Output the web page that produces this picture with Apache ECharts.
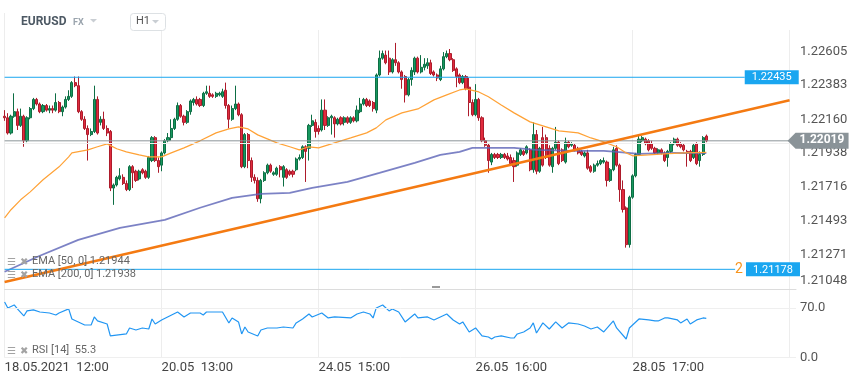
<!DOCTYPE html>
<html><head><meta charset="utf-8">
<script src="https://cdn.jsdelivr.net/npm/echarts@6/dist/echarts.min.js"></script>
<style>html,body{margin:0;padding:0;background:#fff}#c{width:859px;height:385px}</style>
</head><body><div id="c"></div>
<script>
const symbolName = 'EURUSD';
const marketName = 'FX';
const timeframe = 'H1';
const slotCount = 248;
const labelEvery = 49;
const timeLabels = ['18.05.2021  12:00', '20.05  13:00', '24.05  15:00', '26.05  16:00', '28.05  17:00'];
const priceTicks = ['1.22605', '1.22383', '1.22160', '1.21938', '1.21716', '1.21493', '1.21271', '1.21048'];
const priceMin = 1.21048;
const priceMax = 1.227444;
const rsiTicks = [0, 70];
const levelHigh = 1.22435;
const levelLow = 1.21178;
const levelLowTag = '2';
const levelHighEnd = 231;
const levelLowEnd = 228;
const lastPrice = 1.22019;
const trendStart = [0, 1.21095];
const trendEnd = [245, 1.22284];
const ema50Legend = 'EMA [50, 0] 1.21944';
const ema200Legend = 'EMA [200, 0] 1.21938';
const rsiLegend = 'RSI [14]  55.3';

// [open, close, low, high]
const candles = [
[1.2218,1.2217,1.2215,1.2222],[1.2217,1.2207,1.2206,1.2220],[1.2207,1.2218,1.2206,1.2219],[1.2218,1.2221,1.2217,1.2233],[1.2221,1.2212,1.2209,1.2223],
[1.2212,1.2218,1.2211,1.2223],[1.2218,1.2202,1.2198,1.2219],[1.2202,1.2217,1.2201,1.2218],[1.2217,1.2223,1.2216,1.2224],[1.2223,1.2229,1.2222,1.2230],
[1.2229,1.2226,1.2225,1.2230],[1.2226,1.2221,1.2220,1.2227],[1.2221,1.2225,1.2220,1.2226],[1.2225,1.2222,1.2221,1.2226],[1.2222,1.2223,1.2220,1.2225],
[1.2223,1.2222,1.2220,1.2225],[1.2222,1.2227,1.2221,1.2233],[1.2227,1.2221,1.2220,1.2228],[1.2221,1.2224,1.2218,1.2225],[1.2224,1.2229,1.2223,1.2231],
[1.2229,1.2231,1.2228,1.2235],[1.2231,1.2240,1.2230,1.2241],[1.2240,1.2238,1.2237,1.2244],[1.2238,1.2221,1.2220,1.2244],[1.2221,1.2216,1.2215,1.2222],
[1.2216,1.2210,1.2209,1.2218],[1.2210,1.2206,1.2189,1.2212],[1.2206,1.2208,1.2205,1.2210],[1.2208,1.2229,1.2207,1.2238],[1.2229,1.2207,1.2206,1.2231],
[1.2214,1.2216,1.2212,1.2218],[1.2216,1.2210,1.2209,1.2221],[1.2210,1.2207,1.2205,1.2212],[1.2208,1.2171,1.2169,1.2209],[1.2171,1.2173,1.2160,1.2174],
[1.2173,1.2178,1.2172,1.2179],[1.2177,1.2179,1.2176,1.2184],[1.2178,1.2174,1.2173,1.2180],[1.2174,1.2170,1.2169,1.2176],[1.2170,1.2185,1.2169,1.2186],
[1.2185,1.2181,1.2171,1.2186],[1.2182,1.2176,1.2175,1.2183],[1.2177,1.2182,1.2176,1.2183],[1.2183,1.2181,1.2180,1.2184],[1.2182,1.2178,1.2177,1.2183],
[1.2178,1.2191,1.2177,1.2192],[1.2189,1.2204,1.2188,1.2205],[1.2204,1.2189,1.2188,1.2205],[1.2189,1.2185,1.2181,1.2191],[1.2186,1.2194,1.2182,1.2195],
[1.2194,1.2202,1.2193,1.2203],[1.2202,1.2204,1.2201,1.2207],[1.2204,1.2210,1.2202,1.2216],[1.2210,1.2216,1.2209,1.2217],[1.2216,1.2225,1.2215,1.2227],
[1.2225,1.2218,1.2217,1.2226],[1.2218,1.2214,1.2212,1.2219],[1.2214,1.2221,1.2213,1.2222],[1.2221,1.2228,1.2219,1.2229],[1.2227,1.2229,1.2225,1.2230],
[1.2229,1.2226,1.2225,1.2231],[1.2229,1.2225,1.2224,1.2230],[1.2225,1.2233,1.2224,1.2234],[1.2233,1.2234,1.2232,1.2238],[1.2233,1.2231,1.2230,1.2238],
[1.2232,1.2231,1.2230,1.2233],[1.2231,1.2233,1.2230,1.2234],[1.2232,1.2233,1.2231,1.2234],[1.2231,1.2234,1.2230,1.2236],[1.2235,1.2225,1.2223,1.2240],
[1.2225,1.2216,1.2210,1.2226],[1.2216,1.2223,1.2215,1.2225],[1.2223,1.2226,1.2222,1.2238],[1.2226,1.2219,1.2218,1.2227],[1.2219,1.2185,1.2184,1.2220],
[1.2185,1.2206,1.2184,1.2207],[1.2206,1.2189,1.2184,1.2207],[1.2189,1.2178,1.2175,1.2191],[1.2178,1.2176,1.2174,1.2180],[1.2176,1.2164,1.2162,1.2178],
[1.2164,1.2176,1.2161,1.2177],[1.2176,1.2181,1.2175,1.2182],[1.2181,1.2186,1.2180,1.2187],[1.2186,1.2182,1.2181,1.2187],[1.2180,1.2181,1.2179,1.2182],
[1.2180,1.2184,1.2179,1.2185],[1.2185,1.2183,1.2178,1.2186],[1.2178,1.2185,1.2172,1.2186],[1.2183,1.2178,1.2177,1.2184],[1.2182,1.2180,1.2179,1.2183],
[1.2182,1.2180,1.2178,1.2183],[1.2183,1.2190,1.2182,1.2191],[1.2190,1.2191,1.2189,1.2193],[1.2191,1.2198,1.2190,1.2199],[1.2198,1.2195,1.2175,1.2199],
[1.2197,1.2212,1.2189,1.2213],[1.2212,1.2215,1.2211,1.2219],[1.2214,1.2208,1.2204,1.2216],[1.2210,1.2208,1.2206,1.2212],[1.2209,1.2222,1.2208,1.2229],
[1.2222,1.2212,1.2209,1.2229],[1.2212,1.2217,1.2211,1.2218],[1.2217,1.2218,1.2206,1.2219],[1.2217,1.2213,1.2204,1.2218],[1.2213,1.2216,1.2212,1.2217],
[1.2217,1.2213,1.2212,1.2218],[1.2214,1.2217,1.2212,1.2218],[1.2217,1.2214,1.2213,1.2218],[1.2214,1.2217,1.2213,1.2218],[1.2217,1.2215,1.2214,1.2218],
[1.2215,1.2222,1.2214,1.2225],[1.2221,1.2226,1.2220,1.2230],[1.2226,1.2229,1.2225,1.2230],[1.2229,1.2225,1.2224,1.2230],[1.2228,1.2225,1.2224,1.2229],
[1.2227,1.2223,1.2221,1.2228],[1.2222,1.2245,1.2220,1.2246],[1.2245,1.2256,1.2244,1.2261],[1.2256,1.2259,1.2255,1.2261],[1.2258,1.2253,1.2252,1.2261],
[1.2256,1.2247,1.2245,1.2261],[1.2247,1.2255,1.2246,1.2256],[1.2255,1.2253,1.2251,1.2266],[1.2253,1.2247,1.2246,1.2254],[1.2247,1.2242,1.2236,1.2248],
[1.2244,1.2232,1.2227,1.2245],[1.2232,1.2242,1.2231,1.2243],[1.2242,1.2248,1.2238,1.2250],[1.2247,1.2256,1.2245,1.2257],[1.2256,1.2247,1.2246,1.2257],
[1.2247,1.2250,1.2246,1.2258],[1.2250,1.2252,1.2248,1.2256],[1.2251,1.2253,1.2249,1.2256],[1.2253,1.2246,1.2245,1.2255],[1.2247,1.2245,1.2244,1.2248],
[1.2245,1.2243,1.2241,1.2246],[1.2242,1.2249,1.2241,1.2251],[1.2249,1.2257,1.2248,1.2260],[1.2257,1.2259,1.2256,1.2261],[1.2259,1.2255,1.2254,1.2262],
[1.2255,1.2248,1.2247,1.2256],[1.2249,1.2244,1.2237,1.2250],[1.2245,1.2240,1.2239,1.2246],[1.2240,1.2244,1.2239,1.2245],[1.2244,1.2236,1.2235,1.2245],
[1.2237,1.2227,1.2218,1.2243],[1.2227,1.2219,1.2218,1.2229],[1.2219,1.2229,1.2218,1.2239],[1.2229,1.2217,1.2215,1.2230],[1.2217,1.2202,1.2201,1.2218],
[1.2202,1.2199,1.2198,1.2204],[1.2199,1.2189,1.2181,1.2200],[1.2188,1.2193,1.2186,1.2194],[1.2193,1.2191,1.2190,1.2194],[1.2193,1.2191,1.2190,1.2194],
[1.2191,1.2193,1.2190,1.2194],[1.2193,1.2191,1.2190,1.2194],[1.2192,1.2190,1.2189,1.2194],[1.2191,1.2187,1.2186,1.2193],[1.2189,1.2185,1.2175,1.2191],
[1.2186,1.2194,1.2185,1.2195],[1.2193,1.2196,1.2192,1.2197],[1.2195,1.2193,1.2192,1.2196],[1.2194,1.2198,1.2193,1.2199],[1.2196,1.2183,1.2182,1.2197],
[1.2183,1.2206,1.2181,1.2214],[1.2206,1.2182,1.2180,1.2209],[1.2182,1.2197,1.2181,1.2198],[1.2204,1.2186,1.2185,1.2211],[1.2204,1.2191,1.2190,1.2206],
[1.2197,1.2186,1.2185,1.2199],[1.2185,1.2197,1.2181,1.2198],[1.2197,1.2201,1.2196,1.2211],[1.2201,1.2187,1.2186,1.2202],[1.2196,1.2189,1.2188,1.2197],
[1.2188,1.2201,1.2187,1.2204],[1.2201,1.2198,1.2197,1.2202],[1.2199,1.2200,1.2198,1.2201],[1.2199,1.2196,1.2195,1.2200],[1.2197,1.2194,1.2193,1.2198],
[1.2195,1.2193,1.2192,1.2196],[1.2192,1.2194,1.2191,1.2195],[1.2194,1.2184,1.2183,1.2196],[1.2185,1.2182,1.2181,1.2186],[1.2182,1.2186,1.2181,1.2187],
[1.2186,1.2187,1.2185,1.2189],[1.2187,1.2189,1.2186,1.2190],[1.2188,1.2189,1.2187,1.2191],[1.2188,1.2176,1.2172,1.2189],[1.2176,1.2183,1.2175,1.2184],
[1.2183,1.2196,1.2182,1.2198],[1.2197,1.2186,1.2185,1.2199],[1.2186,1.2170,1.2162,1.2187],[1.2170,1.2157,1.2155,1.2176],[1.2158,1.2134,1.2132,1.2159],
[1.2134,1.2165,1.2132,1.2166],[1.2165,1.2179,1.2164,1.2180],[1.2179,1.2193,1.2178,1.2194],[1.2193,1.2203,1.2192,1.2205],[1.2202,1.2204,1.2201,1.2205],
[1.2203,1.2200,1.2199,1.2204],[1.2202,1.2196,1.2195,1.2203],[1.2200,1.2197,1.2196,1.2202],[1.2197,1.2194,1.2193,1.2198],[1.2194,1.2196,1.2193,1.2197],
[1.2196,1.2194,1.2193,1.2197],[1.2194,1.2189,1.2188,1.2195],[1.2191,1.2195,1.2185,1.2196],[1.2195,1.2200,1.2194,1.2201],[1.2200,1.2203,1.2199,1.2204],
[1.2203,1.2199,1.2198,1.2204],[1.2200,1.2198,1.2197,1.2201],[1.2199,1.2196,1.2195,1.2200],[1.2195,1.2194,1.2185,1.2196],[1.2195,1.2189,1.2188,1.2196],
[1.2191,1.2199,1.2190,1.2200],[1.2200,1.2187,1.2186,1.2201],[1.2189,1.2193,1.2185,1.2195],[1.2193,1.2204,1.2192,1.2205],[1.2205,1.22019,1.2201,1.2206]
];

// [bar index, value]
const ema50 = [[0,1.21515],[2,1.21568],[5,1.21633],[8,1.21685],[12,1.21764],[17,1.21849],[20,1.21914],[21,1.21940],[26,1.21960],[29,1.21980],[32,1.21999],[35,1.21967],[38,1.21947],[42,1.21927],[45,1.21914],[49,1.21914],[52,1.21940],[56,1.21973],[61,1.22019],[66,1.22071],[70,1.22097],[73,1.22110],[76,1.22097],[79,1.22058],[82,1.22032],[85,1.22006],[89,1.21980],[92,1.21960],[95,1.21980],[98,1.21973],[103,1.22006],[108,1.22038],[113,1.22071],[116,1.22104],[119,1.22156],[124,1.22202],[129,1.22228],[134,1.22287],[138,1.22320],[142,1.22352],[144,1.22359],[148,1.22339],[151,1.22307],[155,1.22254],[159,1.22202],[164,1.22143],[169,1.22110],[173,1.22084],[179,1.22071],[183,1.22038],[187,1.22012],[191,1.21980],[194,1.21940],[196,1.21921],[201,1.21927],[206,1.21934],[212,1.21940],[219,1.21944]];
const ema200 = [[0,1.21162],[11,1.21267],[23,1.21371],[36,1.21450],[50,1.21502],[61,1.21581],[71,1.21646],[80,1.21672],[89,1.21679],[96,1.21711],[107,1.21751],[117,1.21809],[128,1.21875],[136,1.21927],[142,1.21947],[146,1.21973],[159,1.21973],[166,1.21960],[177,1.21953],[187,1.21953],[191,1.21947],[198,1.21934],[208,1.21940],[219,1.21938]];
const rsi = [[0,78.4],[1,70.0],[3,74.2],[4,68.6],[6,58.7],[7,65.8],[9,67.2],[11,64.3],[14,62.9],[16,60.1],[17,62.9],[20,68.6],[21,54.5],[25,46.0],[27,46.0],[28,57.3],[29,51.7],[32,47.4],[33,30.6],[38,33.4],[39,41.8],[41,39.0],[43,41.8],[45,40.4],[46,54.5],[47,47.4],[49,53.1],[54,64.3],[56,57.3],[58,62.9],[61,62.9],[62,60.1],[63,64.3],[68,64.3],[70,48.9],[71,55.9],[73,50.3],[74,33.4],[75,43.2],[76,36.2],[79,30.6],[80,39.0],[82,41.8],[85,41.8],[87,43.2],[90,41.8],[91,48.9],[93,54.5],[95,61.5],[96,57.3],[99,62.9],[101,55.9],[103,57.3],[108,55.9],[110,61.5],[112,64.3],[114,61.5],[115,55.9],[116,70.0],[118,74.2],[120,65.8],[121,68.6],[123,64.3],[125,50.3],[128,61.5],[129,55.9],[132,57.3],[134,53.1],[138,61.5],[140,53.1],[142,47.4],[143,50.3],[145,36.2],[147,41.8],[149,30.6],[151,29.1],[152,26.3],[153,29.1],[155,30.6],[158,27.7],[159,27.7],[160,33.4],[162,36.2],[164,41.8],[165,48.9],[166,34.8],[168,48.9],[170,40.4],[172,50.3],[174,41.8],[176,48.9],[179,47.4],[181,44.6],[183,40.4],[185,43.2],[187,36.2],[190,51.7],[191,41.8],[194,26.3],[195,41.8],[198,54.5],[201,53.1],[203,51.7],[204,51.7],[206,55.9],[207,55.9],[210,53.1],[211,48.9],[213,54.5],[214,47.4],[216,53.1],[218,55.9],[219,55.3]];

const slots = Array.from({length: slotCount}, (_, i) => i);
const isLabelSlot = (i) => i % labelEvery === 0;
const axisPriceTicks = priceTicks.filter(t => Number(t) > priceMin);
const priceLabel = (v) => {
  const t = priceTicks.find(s => Math.abs(Number(s) - v) < 1e-7);
  return t || v.toFixed(5);
};

const chart = echarts.init(document.getElementById('c'), null, {renderer: 'canvas'});
const levelBlue = '#1aa6f0';
const boxLabel = {backgroundColor: levelBlue, color: '#fff', fontSize: 11, padding: [2, 7, 1, 7]};
chart.setOption({
  animation: false,
  backgroundColor: '#ffffff',
  textStyle: {fontFamily: 'Roboto, sans-serif'},
  grid: [
    {left: 4.6, right: 63, top: 30, height: 259.2},
    {left: 4.6, right: 63, top: 286.6, height: 71.1}
  ],
  xAxis: [
    {type: 'category', gridIndex: 0, data: slots, boundaryGap: false,
     axisLine: {show: true, lineStyle: {color: '#dcdcdc'}}, axisTick: {show: false}, axisLabel: {show: false},
     splitLine: {show: true, interval: isLabelSlot, lineStyle: {color: '#ededed'}}},
    {type: 'category', gridIndex: 1, data: slots, boundaryGap: false,
     axisLine: {show: false}, axisTick: {show: false},
     axisLabel: {show: true, interval: isLabelSlot, align: 'left', margin: 4, color: '#444', fontSize: 13,
       formatter: (v, i) => timeLabels[Math.round(i / labelEvery)] || ''},
     splitLine: {show: true, interval: isLabelSlot, lineStyle: {color: '#ededed'}}}
  ],
  yAxis: [
    {type: 'value', gridIndex: 0, position: 'right', min: priceMin, max: priceMax,
     axisLine: {show: false}, axisTick: {show: false}, splitLine: {show: false},
     axisLabel: {customValues: axisPriceTicks.map(Number), formatter: priceLabel, color: '#555', fontSize: 13, margin: 4}},
    {type: 'value', gridIndex: 1, position: 'right', min: 0, max: 100,
     axisLine: {show: false}, axisTick: {show: false}, splitLine: {show: false},
     axisLabel: {customValues: rsiTicks, formatter: v => v.toFixed(1), color: '#555', fontSize: 13, margin: 4}}
  ],
  series: [
    {type: 'line', xAxisIndex: 0, yAxisIndex: 0, data: [], z: 0, silent: true,
     markLine: {symbol: 'none', silent: true, animation: false, label: {show: false},
       lineStyle: {color: '#efefef', width: 1, type: 'solid'},
       data: priceTicks.map(t => ({yAxis: Number(t)}))}},
    {type: 'line', xAxisIndex: 1, yAxisIndex: 1, data: [], z: 0, silent: true,
     markLine: {symbol: 'none', silent: true, animation: false, label: {show: false},
       lineStyle: {color: '#efefef', width: 1, type: 'solid'},
       data: rsiTicks.map(t => ({yAxis: t}))}},
    {type: 'candlestick', xAxisIndex: 0, yAxisIndex: 0, data: candles, barWidth: 2.6, clip: false, z: 3,
     itemStyle: {color: '#17985f', color0: '#e12b3e', borderColor: '#0d6e44', borderColor0: '#ad1b2b', borderWidth: 1}},
    {type: 'line', xAxisIndex: 0, yAxisIndex: 0, data: ema200, symbol: 'none', z: 4,
     lineStyle: {color: '#5b63b7', width: 1.8, opacity: 0.8}},
    {type: 'line', xAxisIndex: 0, yAxisIndex: 0, data: ema50, symbol: 'none', z: 4,
     lineStyle: {color: '#ffa236', width: 1.2}},
    // last price line
    {type: 'line', xAxisIndex: 0, yAxisIndex: 0, data: [[0, lastPrice], [245, lastPrice]], z: 5, silent: true,
     symbol: 'none', lineStyle: {color: '#8b9498', width: 1}},
    // upper level
    {type: 'line', xAxisIndex: 0, yAxisIndex: 0, data: [[0, levelHigh], [levelHighEnd, levelHigh]], z: 5, silent: true,
     symbol: 'none', lineStyle: {color: levelBlue, width: 1},
     endLabel: Object.assign({show: true, distance: 0, formatter: levelHigh.toFixed(5)}, boxLabel)},
    // lower level
    {type: 'line', xAxisIndex: 0, yAxisIndex: 0, data: [[0, levelLow], [levelLowEnd, levelLow]], z: 5, silent: true,
     symbol: 'none', lineStyle: {color: levelBlue, width: 1},
     endLabel: {show: true, distance: 0, formatter: '{n|' + levelLowTag + '}{b|' + levelLow.toFixed(5) + '}',
       rich: {n: {color: '#f7941d', fontSize: 14, padding: [0, 3, 0, 0]}, b: boxLabel}}},
    // trend line
    {type: 'line', xAxisIndex: 0, yAxisIndex: 0, data: [trendStart, trendEnd], z: 5, silent: true,
     symbol: 'none', lineStyle: {color: '#f47a12', width: 2.6}},
    {type: 'line', xAxisIndex: 1, yAxisIndex: 1, data: rsi, symbol: 'none', z: 4,
     lineStyle: {color: '#2196f3', width: 1.2}}
  ]
});

const tagX = chart.convertToPixel({xAxisIndex: 0}, 245) - 2;
const tagY = chart.convertToPixel({yAxisIndex: 0}, lastPrice);
const minLabelY = chart.convertToPixel({yAxisIndex: 0}, priceMin);
const legendStyle = {fill: '#666', fontSize: 11, fontFamily: 'Roboto'};
const iconStyle = {fill: '#a3a3a3', fontSize: 10, fontFamily: 'DejaVu Sans'};
const legendRow = (y, label) => [
  {type: 'text', left: 7, top: y - 6, style: Object.assign({text: '\u2630'}, iconStyle), z: 20},
  {type: 'text', left: 20, top: y - 6, style: Object.assign({text: '\u2716'}, iconStyle), z: 20},
  {type: 'text', left: 32, top: y - 7, style: Object.assign({text: label}, legendStyle), z: 20}
];
chart.setOption({
  graphic: [
    {type: 'line', shape: {x1: 4.5, y1: 13, x2: 4.5, y2: 30}, style: {stroke: '#ececec', lineWidth: 1}},
    {type: 'text', left: 21, top: 16, style: {text: symbolName, fill: '#4d5964', fontSize: 12, fontWeight: 'bold', fontFamily: 'Roboto'}},
    {type: 'text', left: 73, top: 18, style: {text: marketName, fill: '#9aa4ad', fontSize: 9, fontWeight: 'bold', fontFamily: 'Roboto'}},
    {type: 'polygon', shape: {points: [[90, 19], [97, 19], [93.5, 22.5]]}, style: {fill: '#c9ced3'}},
    {type: 'rect', shape: {x: 130.5, y: 13.5, width: 35, height: 17, r: 3}, style: {fill: 'none', stroke: '#dde1e4', lineWidth: 1}},
    {type: 'text', left: 136, top: 16, style: {text: timeframe, fill: '#555', fontSize: 11, fontFamily: 'Roboto'}},
    {type: 'polygon', shape: {points: [[152, 20], [159, 20], [155.5, 23.5]]}, style: {fill: '#c9ced3'}},
    {type: 'rect', shape: {x: 432, y: 286, width: 8, height: 2}, style: {fill: '#9a9a9a'}},
    {type: 'text', left: 800, top: minLabelY - 15, style: {text: priceTicks[priceTicks.length - 1], fill: '#555', fontSize: 13, fontFamily: 'Roboto'}},
    ...legendRow(263, ema50Legend),
    ...legendRow(276, ema200Legend),
    ...legendRow(352, rsiLegend),
    {type: 'polygon', z: 30, shape: {points: [[tagX, tagY], [tagX + 8, tagY - 8], [tagX + 61, tagY - 8], [tagX + 61, tagY + 8], [tagX + 8, tagY + 8]]},
     style: {fill: '#8a9398'}},
    {type: 'text', z: 31, left: tagX + 12, top: tagY - 7,
     style: {text: lastPrice.toFixed(5), fill: '#fff', fontSize: 12, fontWeight: 'bold', fontFamily: 'Roboto'}}
  ]
});
</script>
</body></html>
